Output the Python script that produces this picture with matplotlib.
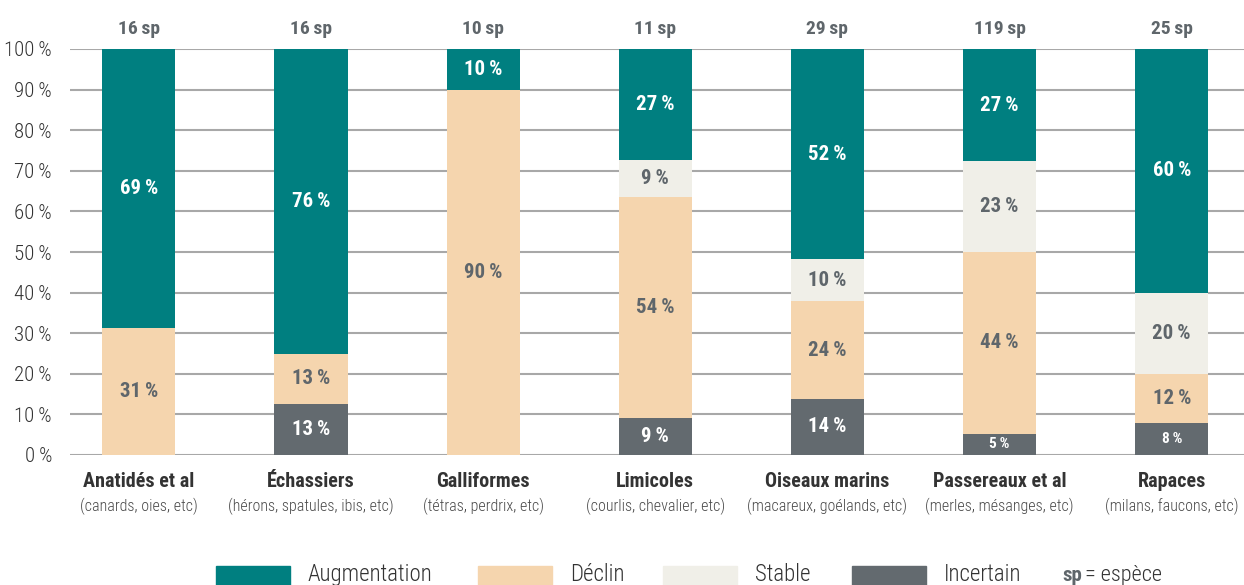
import matplotlib.pyplot as plt
from matplotlib.patches import Rectangle
from matplotlib import font_manager

# pick a condensed sans, fall back to DejaVu
names = {f.name for f in font_manager.fontManager.ttflist}
wanted = ['Roboto Condensed', 'Barlow Semi Condensed', 'Archivo Narrow',
          'Asap Condensed', 'Liberation Sans Narrow']
base_font = next((n for n in wanted if n in names), 'DejaVu Sans')
plt.rcParams['font.family'] = [base_font, 'DejaVu Sans']

# -------------------------------
# Data (percent of species per group)
groups = ['Anatidés et al', 'Échassiers', 'Galliformes', 'Limicoles',
          'Oiseaux marins', 'Passereaux et al', 'Rapaces']
examples = ['(canards, oies, etc)', '(hérons, spatules, ibis, etc)',
            '(tétras, perdrix, etc)', '(courlis, chevalier, etc)',
            '(macareux, goélands, etc)', '(merles, mésanges, etc)',
            '(milans, faucons, etc)']
n_species = [16, 16, 10, 11, 29, 119, 25]

incertain = [0, 12.5, 0, 9.1, 13.8, 5.2, 8]
declin = [31.3, 12.5, 90, 54.5, 24.1, 44.9, 12]
stable = [0, 0, 0, 9.1, 10.3, 22.3, 20]
augmentation = [68.7, 75, 10, 27.3, 51.8, 27.6, 60]

lab_incertain = ['', '13', '', '9', '14', '5', '8']
lab_declin = ['31', '13', '90', '54', '24', '44', '12']
lab_stable = ['', '', '', '9', '10', '23', '20']
lab_augmentation = ['69', '76', '10', '27', '52', '27', '60']

series_names = ['Augmentation', 'Déclin', 'Stable', 'Incertain']
c_aug = '#007f80'
c_dec = '#f5d5ae'
c_sta = '#f0efe8'
c_inc = '#636a6f'
dark_txt = '#5f666b'
thin = '\u2009'

# -------------------------------
fig = plt.figure(figsize=(12.44, 5.85), dpi=100)
W, H = 1244, 585
ax = fig.add_axes([70 / W, 1 - 455 / H, (1244 - 70) / W, (455 - 49) / H])

x = list(range(len(groups)))
bw = 0.425

bottom = [0] * len(groups)
stack = [(incertain, c_inc, lab_incertain, 'white'),
         (declin, c_dec, lab_declin, dark_txt),
         (stable, c_sta, lab_stable, dark_txt),
         (augmentation, c_aug, lab_augmentation, 'white')]

for vals, col, labs, tcol in stack:
    ax.bar(x, vals, bw, bottom=bottom, color=col, zorder=3)
    for i in x:
        if labs[i]:
            small = vals[i] < 9 and col == c_inc
            ax.text(i, bottom[i] + vals[i] / 2, labs[i] + thin + '%',
                    ha='center', va='center', color=tcol,
                    fontsize=11 if small else 15, fontweight='bold', zorder=4)
    bottom = [b + v for b, v in zip(bottom, vals)]

# species counts on top
for i in x:
    ax.text(i, 105, f'{n_species[i]}{thin}sp', ha='center', va='center',
            color=dark_txt, fontsize=14, fontweight='bold')

ax.set_xlim(-0.40, 6.42)
ax.set_ylim(0, 100)
ax.set_yticks(range(0, 101, 10))
ax.set_yticklabels([f'{v}{thin}%' for v in range(0, 101, 10)], fontsize=15,
                   color='#333333', fontweight='light')
ax.set_xticks([])
ax.tick_params(axis='y', length=0, pad=13)
for s in ax.spines.values():
    s.set_visible(False)
ax.grid(axis='y', color='#a8a8a8', linewidth=1.5, zorder=1)

# group names
for i in x:
    ax.text(i, -6.5, groups[i], ha='center', va='center', fontsize=14.5,
            fontweight='bold', color='#333333')
    ax.text(i, -12.7, examples[i], ha='center', va='center', fontsize=11.5,
            color='#4a4a4a', fontweight='light')

# -------------------------------
# legend along the bottom edge
leg_x = [216, 478, 663, 852]
leg_cols = [c_aug, c_dec, c_sta, c_inc]
for lx, col, name in zip(leg_x, leg_cols, series_names):
    fig.add_artist(Rectangle((lx / W, 0), 74 / W, 19 / H, color=col,
                             transform=fig.transFigure))
    fig.text((lx + 92) / W, 4 / H, name, ha='left', va='baseline',
             fontsize=16.5, color='#333333', fontweight='light')
fig.text(1062 / W, 4 / H, 'sp', ha='left', va='baseline', fontsize=15,
         fontweight='bold', color=dark_txt)
fig.text(1085 / W, 4 / H, '= espèce', ha='left', va='baseline', fontsize=16,
         color='#333333', fontweight='light')

fig.savefig('out.png', dpi=100)
